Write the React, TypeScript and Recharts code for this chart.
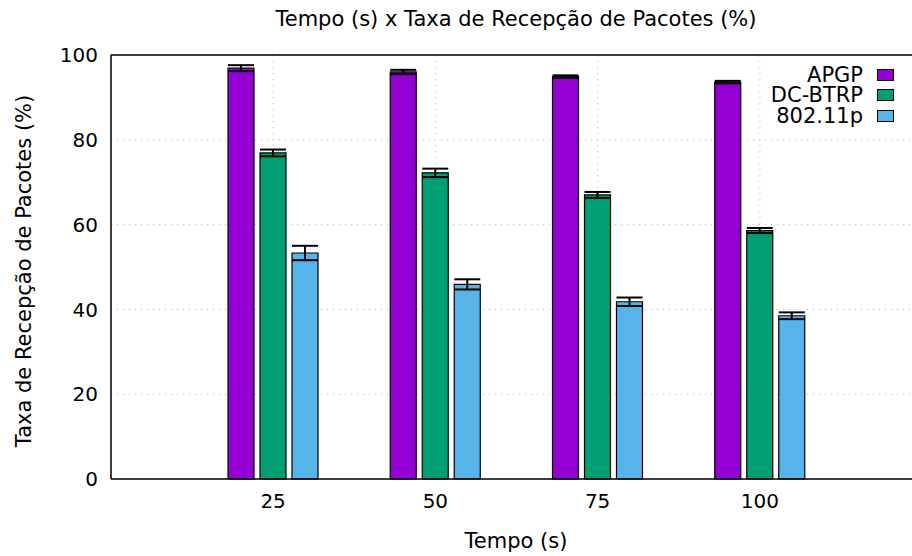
import { BarChart, Bar, XAxis, YAxis, CartesianGrid, ErrorBar, Legend, ReferenceLine } from 'recharts'

const categories = ['25', '50', '75', '100']
const apgp = [96.9, 96.0, 94.9, 93.6]
const apgpErr = [0.7, 0.5, 0.3, 0.3]
const dcBtrp = [76.9, 72.2, 67.0, 58.6]
const dcBtrpErr = [0.8, 1.0, 0.7, 0.6]
const ieee80211p = [53.3, 45.9, 41.8, 38.5]
const ieee80211pErr = [1.7, 1.2, 1.0, 0.8]
const yTicks = [0, 20, 40, 60, 80, 100]

const SERIES = [
  { key: 'apgp', name: 'APGP', color: '#9400d3' },
  { key: 'dcbtrp', name: 'DC-BTRP', color: '#009e73' },
  { key: 'p80211', name: '802.11p', color: '#56b4e9' },
]

const data = categories.map((c, i) => ({
  tempo: c,
  apgp: apgp[i],
  apgpErr: apgpErr[i],
  dcbtrp: dcBtrp[i],
  dcbtrpErr: dcBtrpErr[i],
  p80211: ieee80211p[i],
  p80211Err: ieee80211pErr[i],
}))

const FONT = "'DejaVu Sans', sans-serif"
const FS = 21

function LegendBox() {
  return (
    <div style={{ fontFamily: FONT, fontSize: FS, color: '#000' }}>
      {SERIES.map((s) => (
        <div
          key={s.key}
          style={{ display: 'flex', justifyContent: 'flex-end', alignItems: 'center', height: 20.5 }}
        >
          <span style={{ lineHeight: '20px' }}>{s.name}</span>
          <span
            style={{
              display: 'inline-block',
              width: 15,
              height: 10,
              marginLeft: 14,
              background: s.color,
              border: '1px solid #000',
            }}
          />
        </div>
      ))}
    </div>
  )
}

export default function App() {
  return (
    <div
      style={{
        position: 'absolute',
        left: 0,
        top: 0,
        width: 912,
        height: 556,
        overflow: 'hidden',
        background: '#fff',
      }}
    >
      <BarChart
        width={922}
        height={556}
        data={data}
        margin={{ top: 55, right: 0, bottom: 47, left: 0 }}
        barSize={26}
        barGap={6}
        style={{ fontFamily: FONT }}
      >
        <CartesianGrid stroke="#b0b0b0" strokeDasharray="1 5" strokeWidth={1} />
        <XAxis
          dataKey="tempo"
          height={30}
          padding={{ left: 81, right: 81 }}
          tickLine={false}
          tickSize={0}
          tickMargin={15}
          stroke="#000"
          strokeWidth={1.5}
          tick={{ fill: '#000', fontSize: 20 }}
        />
        <YAxis
          width={111}
          domain={[0, 100]}
          ticks={yTicks}
          tickLine={false}
          tickSize={0}
          tickMargin={13}
          stroke="#000"
          strokeWidth={1.5}
          tick={{ fill: '#000', fontSize: 20 }}
        />
        <ReferenceLine y={100} stroke="#000" strokeWidth={1.5} />
        <Legend
          layout="vertical"
          align="center"
          verticalAlign="middle"
          wrapperStyle={{ top: 64.5, left: 694, width: 200 }}
          content={() => <LegendBox />}
        />
        {SERIES.map((s) => (
          <Bar
            key={s.key}
            dataKey={s.key}
            name={s.name}
            fill={s.color}
            stroke="#000"
            strokeWidth={1.2}
            isAnimationActive={false}
          >
            <ErrorBar dataKey={`${s.key}Err`} width={13} stroke="#000" strokeWidth={2} direction="y" />
          </Bar>
        ))}
        <text x={516} y={26} textAnchor="middle" fontSize={FS} fill="#000" fontFamily={FONT}>
          Tempo (s) x Taxa de Recepção de Pacotes (%)
        </text>
        <text x={516} y={548} textAnchor="middle" fontSize={FS} fill="#000" fontFamily={FONT}>
          Tempo (s)
        </text>
        <text
          x={31}
          y={271}
          textAnchor="middle"
          fontSize={FS}
          fill="#000"
          fontFamily={FONT}
          transform="rotate(-90 31 271)"
        >
          Taxa de Recepção de Pacotes (%)
        </text>
      </BarChart>
    </div>
  )
}
